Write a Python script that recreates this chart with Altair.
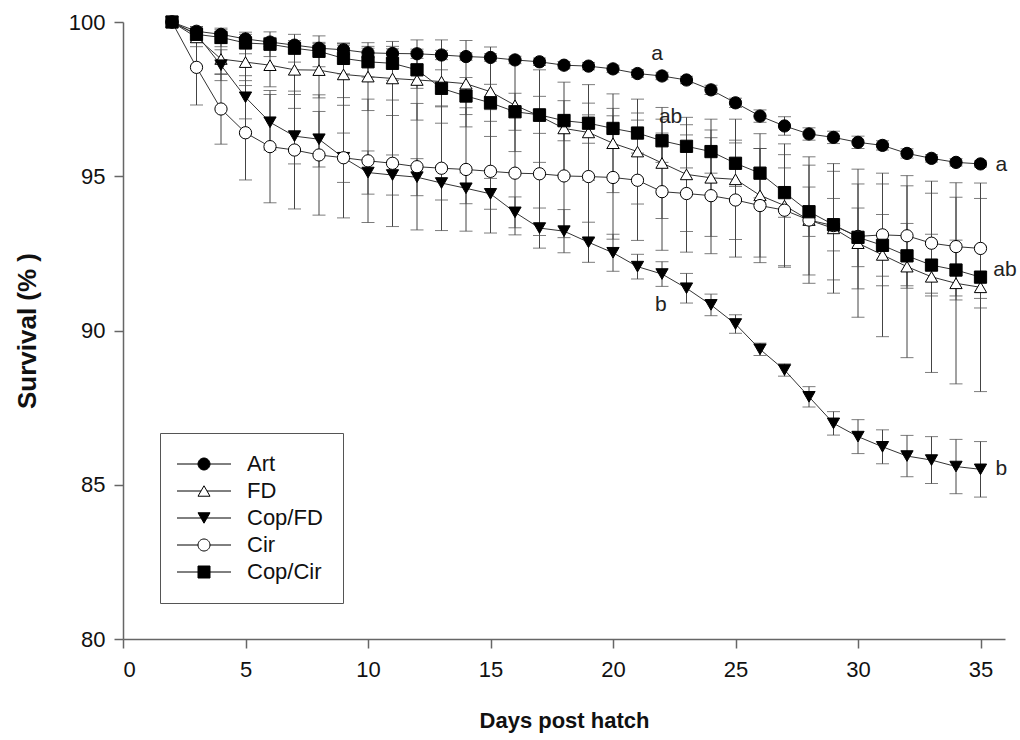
import altair as alt
import pandas as pd

# ---------------- data ----------------
days = list(range(2, 36))
series_names = ["Art", "FD", "Cop/FD", "Cir", "Cop/Cir"]

art = [100, 99.7, 99.6, 99.45, 99.35, 99.25, 99.15, 99.1, 99.0, 98.98, 98.97, 98.93,
       98.88, 98.85, 98.77, 98.71, 98.6, 98.57, 98.48, 98.33, 98.25, 98.12, 97.8, 97.38,
       96.95, 96.63, 96.37, 96.26, 96.1, 96.0, 95.74, 95.58, 95.45, 95.4]
art_err = [0, 0.15, 0.15, 0.15, 0.15, 0.15, 0.15, 0.15, 0.15, 0.15, 0.15, 0.15, 0.12,
           0.12, 0.12, 0.12, 0.12, 0.12, 0.12, 0.12, 0.12, 0.12, 0.15, 0.15, 0.2, 0.3,
           0.2, 0.2, 0.2, 0.15, 0.15, 0.12, 0.12, 0.1]

fd = [100, 99.5, 98.8, 98.7, 98.6, 98.45, 98.44, 98.3, 98.23, 98.17, 98.12, 98.07,
      98.0, 97.74, 97.3, 96.95, 96.55, 96.42, 96.07, 95.8, 95.43, 95.06, 94.95, 94.9,
      94.38, 94.05, 93.58, 93.31, 92.83, 92.45, 92.07, 91.74, 91.53, 91.4]
fd_err = [0, 0.3, 0.5, 0.6, 0.7, 0.8, 0.9, 1.0, 1.1, 1.2, 1.3, 1.35, 1.4, 1.45, 1.5,
          1.5, 1.5, 1.55, 1.6, 1.7, 1.8, 1.85, 1.9, 1.95, 2.0, 2.0, 2.05, 2.1, 2.4,
          2.65, 2.95, 3.1, 3.26, 3.38]

copfd = [100, 99.6, 98.6, 97.56, 96.75, 96.3, 96.2, 95.6, 95.12, 95.04, 94.97, 94.78,
         94.61, 94.43, 93.83, 93.32, 93.22, 92.86, 92.52, 92.07, 91.83, 91.37, 90.83,
         90.21, 89.39, 88.72, 87.85, 86.99, 86.56, 86.23, 85.93, 85.8, 85.59, 85.5]
copfd_err = [0, 0.2, 0.5, 0.7, 0.9, 0.9, 0.9, 0.8, 0.7, 0.65, 0.6, 0.55, 0.5, 0.5, 0.5,
             0.65, 0.7, 0.65, 0.6, 0.4, 0.4, 0.48, 0.35, 0.3, 0.2, 0.2, 0.33, 0.38, 0.55,
             0.55, 0.67, 0.76, 0.88, 0.9]

cir = [100, 98.53, 97.18, 96.41, 95.96, 95.85, 95.69, 95.6, 95.5, 95.42, 95.31, 95.26,
       95.22, 95.16, 95.1, 95.08, 95.01, 94.99, 94.96, 94.87, 94.5, 94.44, 94.37, 94.23,
       94.05, 93.9, 93.58, 93.4, 93.05, 93.1, 93.07, 92.83, 92.72, 92.66]
cir_err = [0, 1.22, 1.14, 1.53, 1.82, 1.91, 1.95, 1.95, 2.0, 2.05, 2.05, 2.02, 2.0, 2.0,
           2.0, 2.0, 2.0, 2.0, 2.0, 1.95, 1.9, 1.9, 1.88, 1.85, 1.85, 1.8, 1.78, 1.76,
           1.7, 1.65, 1.62, 1.62, 1.6, 1.62]

copcir = [100, 99.6, 99.5, 99.32, 99.28, 99.15, 99.05, 98.82, 98.71, 98.66, 98.45,
          97.85, 97.6, 97.38, 97.09, 96.99, 96.8, 96.72, 96.55, 96.4, 96.15, 95.97, 95.8,
          95.42, 95.1, 94.47, 93.85, 93.43, 93.02, 92.76, 92.42, 92.12, 91.96, 91.73]
copcir_err = [0, 0.25, 0.3, 0.35, 0.4, 0.45, 0.5, 0.5, 0.5, 0.55, 0.6, 0.6, 0.6, 0.6,
              0.6, 0.6, 0.65, 0.65, 0.65, 0.65, 0.7, 0.7, 0.7, 0.75, 0.8, 0.8, 0.8, 0.85,
              0.95, 1.0, 1.05, 1.0, 0.97, 1.0]

# significance letters
letter_text = ["a", "ab", "b", "a", "ab", "b"]
letter_day = [21.8, 22.35, 21.95, 35.85, 36.0, 35.85]
letter_val = [98.95, 96.92, 90.83, 95.37, 91.95, 85.52]

x_ticks = [0, 5, 10, 15, 20, 25, 30, 35]
y_ticks = [80, 85, 90, 95, 100]

# marker styles per series
marker_shapes = ["circle", "triangle-up", "triangle-down", "circle", "square"]
marker_fills = ["black", "white", "black", "white", "black"]
marker_strokes = ["black", "black", "black", "black", "black"]

# ---------------- table ----------------
rows = []
for name, vals, errs in zip(series_names, [art, fd, copfd, cir, copcir],
                            [art_err, fd_err, copfd_err, cir_err, copcir_err]):
    for d, v, e in zip(days, vals, errs):
        rows.append({"day": d, "series": name, "v": v, "e": e})
df = pd.DataFrame(rows)
letters = pd.DataFrame({"t": letter_text, "day": letter_day, "v": letter_val})

FONT = "Liberation Sans"
xscale = alt.Scale(domain=[0, 36], nice=False, zero=False)
yscale = alt.Scale(domain=[80, 100], nice=False, zero=False)
xaxis = alt.Axis(values=x_ticks, title="Days post hatch", labelPadding=11,
                 titlePadding=30, titleFontSize=22)
yaxis = alt.Axis(values=y_ticks, title="Survival (% )", labelPadding=9,
                 titlePadding=28, titleFontSize=26)


def X(field="day"):
    return alt.X(f"{field}:Q", scale=xscale, axis=xaxis)


def Y(field="v"):
    return alt.Y(f"{field}:Q", scale=yscale, axis=yaxis)


base = alt.Chart(df)

lines = base.mark_line(color="#333333", strokeWidth=1).encode(
    x=X(), y=Y(), detail="series:N")

errdf = base.transform_filter("datum.e > 0").transform_calculate(
    lo="datum.v - datum.e", hi="datum.v + datum.e")

rules = errdf.mark_rule(color="#444444", strokeWidth=1).encode(
    x=X(), y=Y("lo"), y2="hi:Q")
cap_lo = errdf.mark_tick(orient="horizontal", size=13, thickness=1, color="#444444").encode(
    x=X(), y=Y("lo"))
cap_hi = errdf.mark_tick(orient="horizontal", size=13, thickness=1, color="#444444").encode(
    x=X(), y=Y("hi"))

# one point layer per series (fixed marker), so the only shape scale is the legend's
point_layers = []
for name, shp, fil in zip(series_names, marker_shapes, marker_fills):
    point_layers.append(
        base.transform_filter(alt.datum.series == name).mark_point(
            shape=shp, filled=True, fill=fil, size=150, stroke="black", strokeWidth=1,
            opacity=1).encode(x=X(), y=Y())
    )

# legend symbols: marker with the connecting line drawn through it
legend_paths = [
    "M-4.5,0L4.5,0M1,0A1,1,0,1,1,-1,0A1,1,0,1,1,1,0Z",
    "M-4.5,0L-0.5,0M0.5,0L4.5,0M0,-0.87L1,0.87L-1,0.87Z",
    "M-4.5,0L4.5,0M0,0.87L1,-0.87L-1,-0.87Z",
    "M-4.5,0L-1,0M1,0L4.5,0M1,0A1,1,0,1,1,-1,0A1,1,0,1,1,1,0Z",
    "M-4.5,0L4.5,0M-1,-1L1,-1L1,1L-1,1Z",
]
leg = alt.Legend(
    orient="none", legendX=37, legendY=411, title=None, padding=20,
    symbolSize=144, symbolStrokeWidth=1, symbolOpacity=1,
    symbolOffset=13, labelOffset=32, rowPadding=5,
    labelFont=FONT, labelFontSize=22, labelColor="#111111",
    labelExpr="datum.label + '\u00a0\u00a0'",
    strokeColor="#555555", fillColor="white",
)
legend_layer = base.transform_filter("datum.day < 0").mark_point(
    filled=True, size=144, strokeWidth=1).encode(
    x=X(), y=Y(),
    shape=alt.Shape("series:N", scale=alt.Scale(domain=series_names, range=legend_paths),
                    legend=leg),
    fill=alt.Fill("series:N", scale=alt.Scale(domain=series_names, range=marker_fills),
                  legend=leg),
    stroke=alt.Stroke("series:N", scale=alt.Scale(domain=series_names, range=marker_strokes),
                      legend=leg),
)

texts = alt.Chart(letters).mark_text(font=FONT, fontSize=21, color="#222222",
                                     align="center", baseline="middle").encode(
    x=X(), y=Y(), text="t:N")

chart = alt.layer(lines, rules, cap_lo, cap_hi, *point_layers, legend_layer, texts).properties(
    width=882, height=617,
    padding={"left": 123, "top": 22, "right": 15, "bottom": 101},
    autosize=alt.AutoSizeParams(type="none"),
    background="white",
).configure_view(stroke=None).configure_axis(
    grid=False, domainColor="#666666", domainWidth=1.5, tickColor="#666666",
    tickWidth=1.5, tickSize=9,
    labelFont=FONT, labelFontSize=22, labelColor="#111111",
    titleFont=FONT, titleFontWeight="bold", titleColor="#111111",
)

chart.save("out.html", embed_options={"renderer": "svg", "actions": False})
